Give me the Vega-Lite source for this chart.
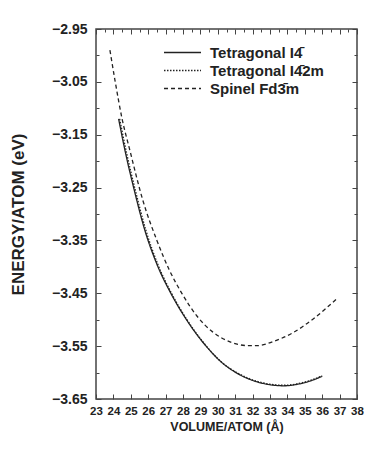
{
  "$schema": "https://vega.github.io/schema/vega-lite/v6.json",
  "width": 261,
  "height": 370,
  "autosize": "none",
  "padding": {"left": 96, "top": 29, "right": 8, "bottom": 58},
  "background": "white",
  "config": {
    "font": "Liberation Sans",
    "view": {"stroke": "#444", "strokeWidth": 1.5},
    "axis": {
      "domain": false,
      "grid": false,
      "tickColor": "#444",
      "tickWidth": 1,
      "labelFont": "Liberation Sans",
      "labelFontWeight": "bold",
      "labelColor": "#222",
      "titleFont": "Liberation Sans",
      "titleFontWeight": "bold",
      "titleColor": "#222",
      "labelOverlap": false,
      "labelBound": false,
      "labelFlush": false
    }
  },
  "data": {
    "values": [
      {"phase": "Tetragonal I4̄", "volume": 24.3, "energy": -3.12},
      {"phase": "Tetragonal I4̄", "volume": 24.7, "energy": -3.185},
      {"phase": "Tetragonal I4̄", "volume": 25.2, "energy": -3.255},
      {"phase": "Tetragonal I4̄", "volume": 25.8, "energy": -3.33},
      {"phase": "Tetragonal I4̄", "volume": 26.5, "energy": -3.395},
      {"phase": "Tetragonal I4̄", "volume": 27.3, "energy": -3.45},
      {"phase": "Tetragonal I4̄", "volume": 28.2, "energy": -3.5},
      {"phase": "Tetragonal I4̄", "volume": 29.2, "energy": -3.545},
      {"phase": "Tetragonal I4̄", "volume": 30.2, "energy": -3.58},
      {"phase": "Tetragonal I4̄", "volume": 31.2, "energy": -3.603},
      {"phase": "Tetragonal I4̄", "volume": 32.2, "energy": -3.617},
      {"phase": "Tetragonal I4̄", "volume": 33.0, "energy": -3.623},
      {"phase": "Tetragonal I4̄", "volume": 33.8, "energy": -3.625},
      {"phase": "Tetragonal I4̄", "volume": 34.6, "energy": -3.622},
      {"phase": "Tetragonal I4̄", "volume": 35.3, "energy": -3.616},
      {"phase": "Tetragonal I4̄", "volume": 36.0, "energy": -3.607},
      {"phase": "Tetragonal I4̄2m", "volume": 24.36, "energy": -3.12},
      {"phase": "Tetragonal I4̄2m", "volume": 24.76, "energy": -3.185},
      {"phase": "Tetragonal I4̄2m", "volume": 25.26, "energy": -3.255},
      {"phase": "Tetragonal I4̄2m", "volume": 25.86, "energy": -3.33},
      {"phase": "Tetragonal I4̄2m", "volume": 26.55, "energy": -3.395},
      {"phase": "Tetragonal I4̄2m", "volume": 27.34, "energy": -3.45},
      {"phase": "Tetragonal I4̄2m", "volume": 28.23, "energy": -3.5},
      {"phase": "Tetragonal I4̄2m", "volume": 29.22, "energy": -3.545},
      {"phase": "Tetragonal I4̄2m", "volume": 30.21, "energy": -3.58},
      {"phase": "Tetragonal I4̄2m", "volume": 31.2, "energy": -3.602},
      {"phase": "Tetragonal I4̄2m", "volume": 32.2, "energy": -3.616},
      {"phase": "Tetragonal I4̄2m", "volume": 33.0, "energy": -3.622},
      {"phase": "Tetragonal I4̄2m", "volume": 33.8, "energy": -3.624},
      {"phase": "Tetragonal I4̄2m", "volume": 34.6, "energy": -3.621},
      {"phase": "Tetragonal I4̄2m", "volume": 35.3, "energy": -3.615},
      {"phase": "Tetragonal I4̄2m", "volume": 36.0, "energy": -3.606},
      {"phase": "Spinel Fd3̄m", "volume": 23.8, "energy": -2.99},
      {"phase": "Spinel Fd3̄m", "volume": 24.09, "energy": -3.047},
      {"phase": "Spinel Fd3̄m", "volume": 24.5, "energy": -3.12},
      {"phase": "Spinel Fd3̄m", "volume": 24.95, "energy": -3.18},
      {"phase": "Spinel Fd3̄m", "volume": 25.7, "energy": -3.275},
      {"phase": "Spinel Fd3̄m", "volume": 26.5, "energy": -3.35},
      {"phase": "Spinel Fd3̄m", "volume": 27.2, "energy": -3.405},
      {"phase": "Spinel Fd3̄m", "volume": 27.95, "energy": -3.451},
      {"phase": "Spinel Fd3̄m", "volume": 28.8, "energy": -3.493},
      {"phase": "Spinel Fd3̄m", "volume": 29.7, "energy": -3.523},
      {"phase": "Spinel Fd3̄m", "volume": 30.8, "energy": -3.543},
      {"phase": "Spinel Fd3̄m", "volume": 31.7, "energy": -3.549},
      {"phase": "Spinel Fd3̄m", "volume": 32.3, "energy": -3.549},
      {"phase": "Spinel Fd3̄m", "volume": 33.2, "energy": -3.541},
      {"phase": "Spinel Fd3̄m", "volume": 34.3, "energy": -3.525},
      {"phase": "Spinel Fd3̄m", "volume": 35.5, "energy": -3.498},
      {"phase": "Spinel Fd3̄m", "volume": 36.85, "energy": -3.46}
    ]
  },
  "layer": [
    {
      "mark": {"type": "line", "color": "#222", "strokeWidth": 1.3, "interpolate": "monotone"},
      "encoding": {
        "x": {
          "field": "volume", "type": "quantitative",
          "scale": {"domain": [23, 38], "nice": false, "zero": false},
          "axis": {
            "orient": "bottom",
            "title": "VOLUME/ATOM (Å)",
            "titleFontSize": 12.5,
            "titlePadding": 4,
            "values": [23,23.5,24,24.5,25,25.5,26,26.5,27,27.5,28,28.5,29,29.5,30,30.5,31,31.5,32,32.5,33,33.5,34,34.5,35,35.5,36,36.5,37,37.5,38],
            "format": "d",
            "labelExpr": "datum.value % 1 == 0 ? format(datum.value, 'd') : ''",
            "labelFontSize": 11.5,
            "labelPadding": 11,
            "tickSize": {"condition": {"test": "datum.value % 1 == 0", "value": -5}, "value": -3}
          }
        },
        "y": {
          "field": "energy", "type": "quantitative",
          "scale": {"domain": [-3.65, -2.95], "nice": false, "zero": false},
          "axis": {
            "orient": "left",
            "title": "ENERGY/ATOM (eV)",
            "titleFontSize": 17,
            "titlePadding": 24,
            "values": [-3.65,-3.6,-3.55,-3.5,-3.45,-3.4,-3.35,-3.3,-3.25,-3.2,-3.15,-3.1,-3.05,-3.0,-2.95],
            "format": ".2f",
            "labelExpr": "abs(round(datum.value*100)) % 10 == 5 ? datum.label : ''",
            "labelFontSize": 14,
            "labelPadding": 14,
            "tickSize": {"condition": {"test": "abs(round(datum.value*100)) % 10 == 5", "value": -5}, "value": -3}
          }
        },
        "strokeDash": {
          "field": "phase", "type": "nominal",
          "scale": {"domain": ["Tetragonal I4̄", "Tetragonal I4̄2m", "Spinel Fd3̄m"], "range": [[1, 0], [1.5, 1.5], [4, 3]]},
          "legend": {
            "title": null,
            "orient": "none",
            "legendX": 79,
            "legendY": 16,
            "symbolType": "M-3,0H3",
            "symbolSize": 152,
            "symbolStrokeWidth": 1.3,
            "symbolStrokeColor": "#222",
            "symbolFillColor": "transparent",
            "labelFont": "Liberation Sans",
            "labelFontWeight": "bold",
            "labelFontSize": 15,
            "labelColor": "#222",
            "labelOffset": 20,
            "rowPadding": 2,
            "labelLimit": 300
          }
        }
      }
    },
    {
      "mark": {"type": "line", "opacity": 0},
      "encoding": {
        "x": {
          "field": "volume", "type": "quantitative",
          "scale": {"domain": [23, 38], "nice": false, "zero": false},
          "axis": {
            "orient": "top", "title": null, "labels": false,
            "values": [23,23.5,24,24.5,25,25.5,26,26.5,27,27.5,28,28.5,29,29.5,30,30.5,31,31.5,32,32.5,33,33.5,34,34.5,35,35.5,36,36.5,37,37.5,38],
            "tickSize": {"condition": {"test": "datum.value % 1 == 0", "value": -5}, "value": -3}
          }
        },
        "y": {
          "field": "energy", "type": "quantitative",
          "scale": {"domain": [-3.65, -2.95], "nice": false, "zero": false},
          "axis": {
            "orient": "right", "title": null, "labels": false,
            "values": [-3.65,-3.6,-3.55,-3.5,-3.45,-3.4,-3.35,-3.3,-3.25,-3.2,-3.15,-3.1,-3.05,-3.0,-2.95],
            "tickSize": {"condition": {"test": "abs(round(datum.value*100)) % 10 == 5", "value": -5}, "value": -3}
          }
        },
        "detail": {"field": "phase", "type": "nominal"}
      }
    }
  ],
  "resolve": {"axis": {"x": "independent", "y": "independent"}}
}
